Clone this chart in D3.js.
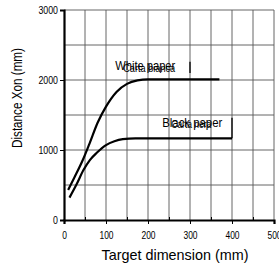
<!DOCTYPE html>
<html>
<head>
<meta charset="utf-8">
<script src="https://cdn.jsdelivr.net/npm/d3@7"></script>
<style>
  body { margin: 0; background: #fff; }
  svg { display: block; }
  text { font-family: "Liberation Sans Narrow", "Liberation Sans", Arial, sans-serif; fill: #000; }
</style>
</head>
<body>
<svg width="279" height="270"></svg>
<script>
// data
const whitePaper = [[10, 430], [25, 610], [45, 860], [60, 1080], [80, 1390], [100, 1620], [125, 1830], [150, 1945], [175, 1995], [200, 2010], [370, 2010]];
const blackPaper = [[13, 320], [30, 510], [46, 710], [62, 860], [78, 960], [100, 1070], [120, 1125], [140, 1155], [170, 1167], [400, 1167]];
const markers = [{ x: 300, y0: 2100, y1: 2260 }, { x: 400, y0: 1167, y1: 1460 }];
const labels = [
  { text: 'White paper', sub: 'Carta bianca', x: 122, y: 2140 },
  { text: 'Black paper', sub: 'Carta nera', x: 234, y: 1330 }
];
const xTicks = [0, 100, 200, 300, 400, 500];
const yTicks = [0, 1000, 2000, 3000];

const mLeft = 64, mRight = 274, mTop = 10, mBottom = 220;

const svg = d3.select('svg');

const x = d3.scaleLinear().domain([0, 500]).range([mLeft, mRight]);
const y = d3.scaleLinear().domain([0, 3000]).range([mBottom, mTop]);

// grid
svg.append('g')
  .selectAll('line')
  .data(d3.range(50, 501, 50))
  .enter().append('line')
  .attr('x1', d => x(d)).attr('x2', d => x(d))
  .attr('y1', mTop).attr('y2', mBottom)
  .attr('stroke', '#555').attr('stroke-width', 0.9)

svg.append('g')
  .selectAll('line')
  .data(d3.range(500, 3001, 500))
  .enter().append('line')
  .attr('x1', mLeft).attr('x2', mRight)
  .attr('y1', d => y(d)).attr('y2', d => y(d))
  .attr('stroke', '#555').attr('stroke-width', 0.9)

// axes
const xAxis = svg.append('g')
  .attr('transform', `translate(0, ${mBottom})`)
  .call(d3.axisBottom(x).tickValues(xTicks).tickSize(4).tickPadding(7).tickFormat(d3.format('d')))
xAxis.select('.domain').attr('stroke-width', 2.2)
xAxis.selectAll('text')
  .style('font-size', '11px')
  .attr('textLength', d => String(d).length * 4.7)
  .attr('lengthAdjust', 'spacingAndGlyphs')

svg.append('g')
  .attr('transform', `translate(0, ${mBottom})`)
  .call(d3.axisTop(x).tickValues(d3.range(50, 500, 100)).tickSize(3).tickFormat(''))
  .select('.domain').remove()

const yAxis = svg.append('g')
  .attr('transform', `translate(${mLeft}, 0)`)
  .call(d3.axisLeft(y).tickValues(yTicks).tickSize(4).tickPadding(2).tickFormat(d3.format('d')))
yAxis.select('.domain').attr('stroke-width', 2.2)
yAxis.selectAll('text')
  .style('font-size', '11px')
  .attr('textLength', d => String(d).length * 4.9)
  .attr('lengthAdjust', 'spacingAndGlyphs')

// axis titles
svg.append('text')
  .attr('x', 175).attr('y', 260)
  .attr('text-anchor', 'middle')
  .style('font-size', '15px')
  .attr('textLength', 147)
  .attr('lengthAdjust', 'spacingAndGlyphs')
  .text('Target dimension (mm)')

svg.append('text')
  .attr('transform', 'translate(22, 98) rotate(-90)')
  .attr('text-anchor', 'middle')
  .style('font-size', '15px')
  .attr('textLength', 100)
  .attr('lengthAdjust', 'spacingAndGlyphs')
  .text('Distance Xon (mm)')

// curves
const line = d3.line()
  .x(d => x(d[0]))
  .y(d => y(d[1]))
  .curve(d3.curveMonotoneX)

;[whitePaper, blackPaper].forEach(series => {
  svg.append('path')
    .datum(series)
    .attr('d', line)
    .attr('fill', 'none')
    .attr('stroke', '#000')
    .attr('stroke-width', 2.2)
})

svg.append('g')
  .selectAll('line')
  .data(markers)
  .enter().append('line')
  .attr('x1', d => x(d.x)).attr('x2', d => x(d.x))
  .attr('y1', d => y(d.y0)).attr('y2', d => y(d.y1))
  .attr('stroke', '#000').attr('stroke-width', 1.3)

// labels (English over Italian)
labels.forEach(l => {
  svg.append('text')
    .attr('x', x(l.x)).attr('y', y(l.y))
    .style('font-size', '13.5px')
    .attr('textLength', 60)
    .attr('lengthAdjust', 'spacingAndGlyphs')
    .text(l.text)
  svg.append('text')
    .attr('x', x(l.x) + (l.sub.length > 10 ? 8 : 9)).attr('y', y(l.y) + 1.5)
    .style('font-size', '10.5px')
    .attr('textLength', l.sub.length > 10 ? 52 : 40)
    .attr('lengthAdjust', 'spacingAndGlyphs')
    .text(l.sub)
})
</script>
</body>
</html>
